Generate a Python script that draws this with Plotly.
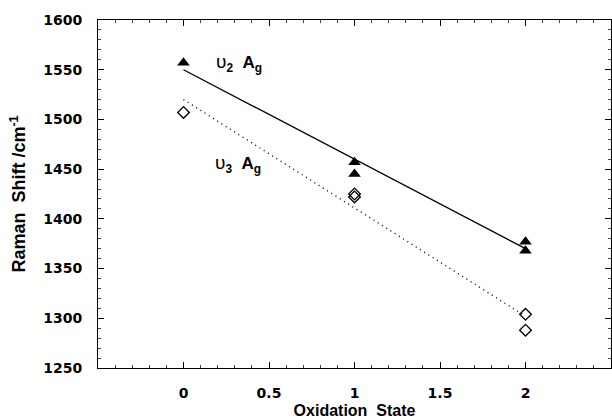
import plotly.graph_objects as go

# Data
ox_v2 = [0, 1, 1, 2, 2]
shift_v2 = [1557, 1457, 1445, 1377, 1368]
ox_v3 = [0, 1, 1, 2, 2]
shift_v3 = [1507, 1425, 1422, 1304, 1288]

# Fit line end points
fit_x = [0, 2]
fit_v2 = [1550, 1370]
fit_v3 = [1520, 1302]

x_ticks = [0, 0.5, 1, 1.5, 2]
x_tick_text = ["0", "0.5", "1", "1.5", "2"]
y_ticks = [1250, 1300, 1350, 1400, 1450, 1500, 1550, 1600]

TFONT = "DejaVu Sans, Liberation Sans, Arial, sans-serif"
LFONT = "Liberation Sans, Arial, sans-serif"
SP = "\u00a0\u00a0"

fig = go.Figure()
fig.add_trace(go.Scatter(x=fit_x, y=fit_v2, mode="lines",
                         line=dict(color="black", width=1.3), showlegend=False))
fig.add_trace(go.Scatter(x=fit_x, y=fit_v3, mode="lines",
                         line=dict(color="black", width=1.4, dash="1px,4px"), showlegend=False))
fig.add_trace(go.Scatter(x=ox_v2, y=shift_v2, mode="markers",
                         marker=dict(symbol="triangle-up", size=11, color="black"),
                         showlegend=False))
fig.add_trace(go.Scatter(x=ox_v3, y=shift_v3, mode="markers",
                         marker=dict(symbol="diamond-open", size=9, color="black",
                                     line=dict(width=1.3, color="black")),
                         showlegend=False))

fig.add_annotation(x=0.18, y=1557, xanchor="left", yanchor="middle", showarrow=False,
                   text="<span style='font-size:19px'>υ</span><sub><b>2</b></sub>" + SP + "<b>A</b><sub><b>g</b></sub>",
                   font=dict(family=LFONT, size=17, color="black"))
fig.add_annotation(x=0.175, y=1455, xanchor="left", yanchor="middle", showarrow=False,
                   text="<span style='font-size:19px'>υ</span><sub><b>3</b></sub>" + SP + "<b>A</b><sub><b>g</b></sub>",
                   font=dict(family=LFONT, size=17, color="black"))

axis_common = dict(showline=True, linecolor="black", linewidth=1, mirror="ticks",
                   ticks="inside", ticklen=6, tickcolor="black", tickwidth=1,
                   showgrid=False, zeroline=False,
                   tickfont=dict(family=TFONT, size=14, color="black", weight="bold"))

fig.update_xaxes(range=[-0.5, 2.5], tickvals=x_ticks, ticktext=x_tick_text,
                 minor=dict(dtick=0.1, ticks="inside", ticklen=3, tickcolor="#444", showgrid=False),
                 ticklabelstandoff=12,
                 title=dict(text="<b>Oxidation" + SP + "State</b>", standoff=6,
                            font=dict(family=LFONT, size=16, color="black")),
                 **axis_common)
fig.update_yaxes(range=[1250, 1600], tickvals=y_ticks,
                 minor=dict(dtick=10, ticks="inside", ticklen=3, tickcolor="#444", showgrid=False),
                 ticklabelstandoff=12,
                 title=dict(text="<b>Raman" + SP + "Shift /cm<sup>-1</sup></b>", standoff=12,
                            font=dict(family=LFONT, size=18, color="black")),
                 **axis_common)

fig.update_layout(width=612, height=419,
                  margin=dict(l=98, r=1, t=20, b=51, autoexpand=False),
                  paper_bgcolor="white", plot_bgcolor="white",
                  font=dict(family=LFONT, color="black"))

# remove the page's default 8px body margin so the figure fills the window
fig.write_html("out.html", config={"displayModeBar": False},
               post_script="document.body.style.margin='0';")
